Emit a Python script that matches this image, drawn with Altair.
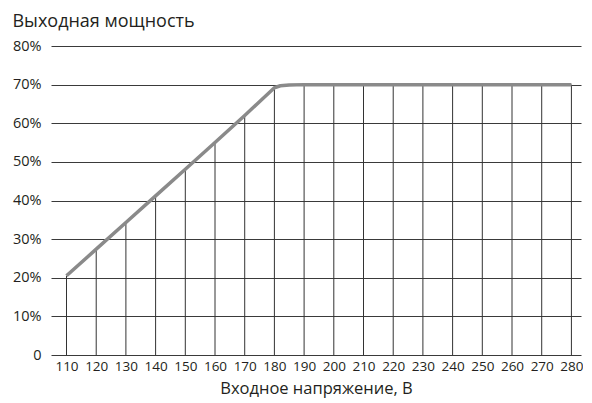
import altair as alt
import pandas as pd

# Data
line_x = [110, 120, 130, 140, 150, 160, 170, 180, 182, 185, 190, 200, 210, 220, 230, 240, 250, 260, 270, 280]
line_y = [20.5, 27.4, 34.3, 41.2, 48.1, 55.0, 62.0, 69.2, 69.7, 69.9, 70, 70, 70, 70, 70, 70, 70, 70, 70, 70]

tick_x = [110, 120, 130, 140, 150, 160, 170, 180, 190, 200, 210, 220, 230, 240, 250, 260, 270, 280]
tick_y = [20.5, 27.4, 34.3, 41.2, 48.1, 55.0, 62.0, 69.2, 70, 70, 70, 70, 70, 70, 70, 70, 70, 70]

y_ticks = [0, 10, 20, 30, 40, 50, 60, 70, 80]

FONT = "Open Sans"
TXT = "#231f20"

line_df = pd.DataFrame({"u": line_x, "p": line_y})
drop_df = pd.DataFrame({"u": tick_x, "p": tick_y, "z": [0] * len(tick_x)})

xscale = alt.Scale(domain=[104.78, 283.23], nice=False, zero=False)
yscale = alt.Scale(domain=[0, 80], nice=False)

xaxis = alt.Axis(values=tick_x, grid=False, ticks=False, domain=False, labelOverlap=False,
                 labelFontSize=13.5, labelFont=FONT, labelColor=TXT, labelPadding=4,
                 title="Входное напряжение, В", titleFontSize=16.5, titleFont=FONT,
                 titleFontWeight="normal", titleColor=TXT, titlePadding=8)
yaxis = alt.Axis(values=y_ticks, grid=True, gridColor="#3a3a3a", gridWidth=1, gridOpacity=1,
                 ticks=False, domain=False, labelOverlap=False,
                 labelFontSize=14.5, labelFont=FONT, labelColor=TXT,
                 labelPadding=10, title=None,
                 labelExpr="datum.value == 0 ? '0' : datum.value + '%'")

drops = alt.Chart(drop_df).mark_rule(color="#333333", strokeWidth=1).encode(
    x=alt.X("u:Q", scale=xscale, axis=xaxis),
    y=alt.Y("z:Q", scale=yscale, axis=yaxis),
    y2="p:Q",
)

line = alt.Chart(line_df).mark_line(color="#8a8a8a", strokeWidth=3.5, strokeJoin="round").encode(
    x=alt.X("u:Q", scale=xscale, axis=xaxis),
    y=alt.Y("p:Q", scale=yscale, axis=yaxis),
)

chart = alt.layer(drops, line).properties(
    width=530,
    height=309,
    padding={"left": 4, "top": 5, "right": 0, "bottom": 2},
    title=alt.TitleParams("Выходная мощность", anchor="start", frame="bounds",
                          fontSize=18, fontWeight="normal", font=FONT, color=TXT, offset=7),
).configure_view(stroke=None).configure_axis(labelOverlap=False)

chart.save("out.html", embed_options={"renderer": "svg", "actions": False})
